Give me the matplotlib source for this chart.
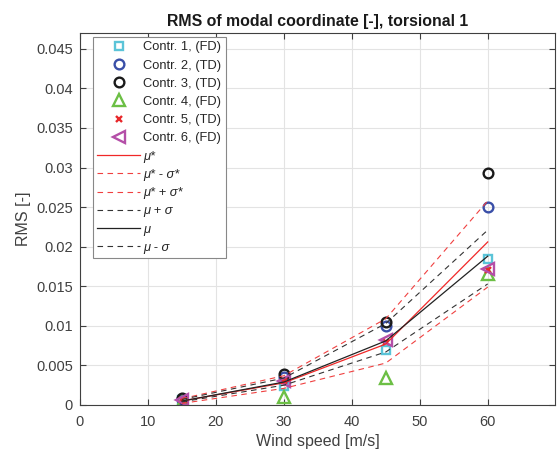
import matplotlib
matplotlib.use("Agg")
import matplotlib.pyplot as plt
from matplotlib.ticker import FuncFormatter, MultipleLocator

plt.rcParams['font.family'] = ['Liberation Sans', 'DejaVu Sans']

# 風速
speeds = [15, 30, 45, 60]

# 各寄与のRMS
contr1 = [0.0006, 0.0024, 0.0069, 0.0184]
contr2 = [0.0008, 0.0035, 0.0100, 0.0250]
contr3 = [0.0009, 0.0039, 0.0105, 0.0293]
contr4 = [0.0003, 0.0010, 0.0034, 0.0166]
contr5 = [0.0006, 0.0030, 0.0080, 0.0171]
contr6 = [0.0006, 0.0030, 0.0082, 0.0172]

# 統計量
mu_star = [0.0005, 0.0028, 0.0077, 0.0206]
mu_star_minus = [0.0002, 0.0021, 0.0053, 0.0149]
mu_star_plus = [0.0008, 0.0037, 0.0109, 0.0258]
mu_plus = [0.0007, 0.0034, 0.0103, 0.0221]
mu = [0.0005, 0.0029, 0.0081, 0.0188]
mu_minus = [0.0004, 0.0025, 0.0067, 0.0153]

fig = plt.figure(figsize=(5.58, 4.5), dpi=100)
ax = fig.add_axes([80 / 558, 45 / 450, 475 / 558, 372 / 450])

mk = dict(linestyle='none', markerfacecolor='none', markeredgewidth=1.7)
ax.plot(speeds, contr1, marker='s', markersize=6, color='#5BC4D8', label='Contr. 1, (FD)', **mk)
ax.plot(speeds, contr2, marker='o', markersize=7, color='#3A4FA8', label='Contr. 2, (TD)', **mk)
ax.plot(speeds, contr3, marker='o', markersize=7, color='#1a1a1a', label='Contr. 3, (TD)', **mk)
ax.plot(speeds, contr4, marker='^', markersize=8, color='#6CBF45', label='Contr. 4, (FD)', **mk)
ax.plot(speeds, contr5, marker='x', markersize=4, color='#E8282B', label='Contr. 5, (TD)', **mk)
ax.plot(speeds, contr6, marker='<', markersize=8, color='#B44FA8', label='Contr. 6, (FD)', **mk)

ax.plot(speeds, mu_star, color='#F02828', lw=0.9, label='μ*')
ax.plot(speeds, mu_star_minus, color='#F04040', lw=0.8, ls=(0, (5, 4)), label='μ* - σ*')
ax.plot(speeds, mu_star_plus, color='#F04040', lw=0.8, ls=(0, (5, 4)), label='μ* + σ*')
ax.plot(speeds, mu_plus, color='#333333', lw=0.8, ls=(0, (5, 4)), label='μ + σ')
ax.plot(speeds, mu, color='#222222', lw=0.9, label='μ')
ax.plot(speeds, mu_minus, color='#333333', lw=0.8, ls=(0, (5, 4)), label='μ - σ')

ax.set_xlim(0, 69.9)
ax.set_ylim(0, 0.047)
ax.xaxis.set_major_locator(MultipleLocator(10))
ax.yaxis.set_major_locator(MultipleLocator(0.005))
ax.yaxis.set_major_formatter(FuncFormatter(lambda v, p: '0' if abs(v) < 1e-12 else '%g' % round(v, 4)))
ax.grid(True, color='#e3e3e3', lw=0.8)
ax.set_axisbelow(True)
ax.tick_params(direction='in', top=True, right=True, length=4, width=0.8,
               colors='#404040', labelsize=10.5, labelcolor='#404040')
ax.tick_params(axis='x', pad=7.5)
ax.tick_params(axis='y', pad=5)
for s in ax.spines.values():
    s.set_color('#404040')
    s.set_linewidth(0.8)

ax.set_xlabel('Wind speed [m/s]', fontsize=11.5, color='#404040', labelpad=3)
ax.set_ylabel('RMS [-]', fontsize=11.5, color='#404040', labelpad=4)
ax.set_title('RMS of modal coordinate [-], torsional 1', fontsize=11.4, fontweight='bold', color='#1a1a1a', pad=5)

leg = ax.legend(loc='upper left', bbox_to_anchor=(0.027, 0.99), borderaxespad=0,
                fontsize=9.3, handlelength=3.3, handletextpad=0.25, labelspacing=0.48,
                borderpad=0.35, fancybox=False, framealpha=1, numpoints=1)
leg.get_frame().set_edgecolor('#888888')
leg.get_frame().set_linewidth(0.8)
for t in leg.get_texts()[6:]:
    t.set_fontstyle('italic')
for t in leg.get_texts():
    t.set_color('#262626')

fig.savefig('out.png', dpi=100)
